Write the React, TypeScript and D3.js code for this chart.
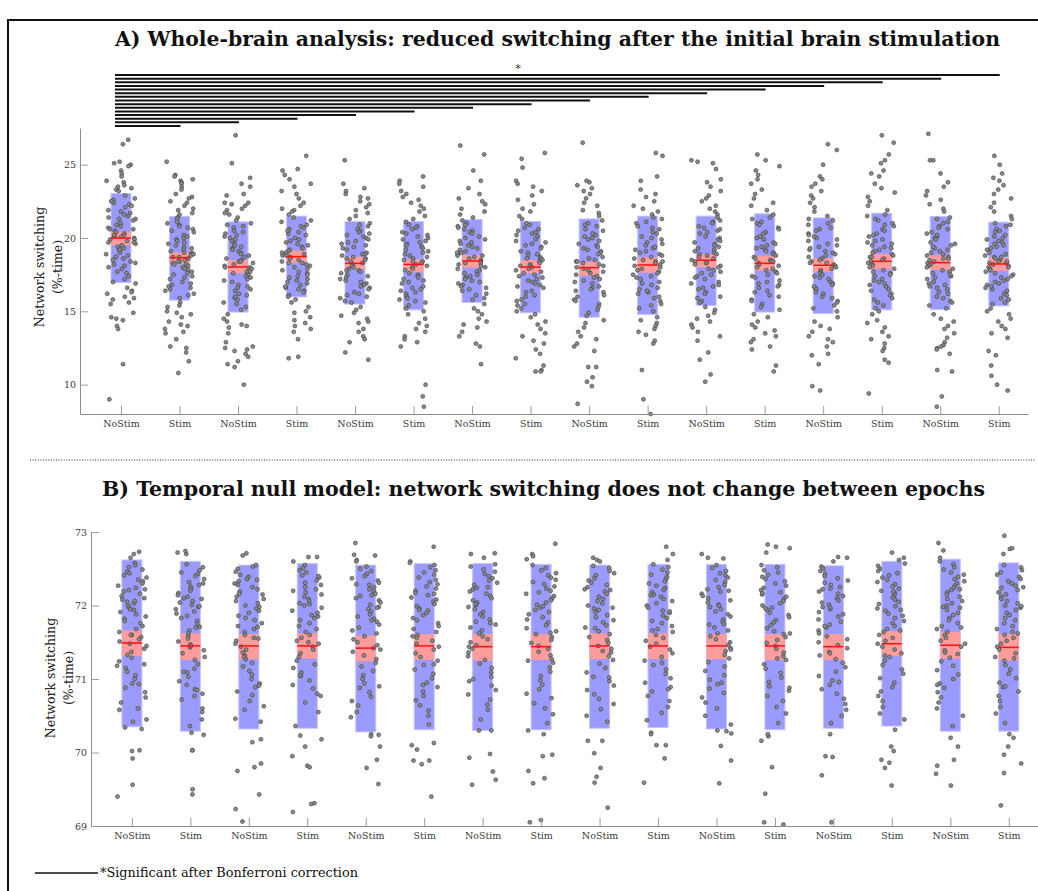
import React, { useEffect, useRef } from 'react';
import * as d3 from 'd3';

// conditions, alternating
const groupLabels = ['NoStim', 'Stim', 'NoStim', 'Stim', 'NoStim', 'Stim', 'NoStim', 'Stim',
  'NoStim', 'Stim', 'NoStim', 'Stim', 'NoStim', 'Stim', 'NoStim', 'Stim'];

// A) whole-brain: mean, SD box and SEM band (network switching, %-time)
const wholeMean = [20.0, 18.66, 18.02, 18.73, 18.27, 18.2, 18.43, 18.02, 17.98, 18.16, 18.48, 18.27, 18.14, 18.41, 18.32, 18.23];
const wholeBoxLow = [16.96, 15.76, 14.95, 15.98, 15.49, 15.1, 15.6, 14.9, 14.6, 14.79, 15.4, 14.95, 14.85, 15.1, 15.12, 15.37];
const wholeBoxHigh = [23.03, 21.47, 21.1, 21.49, 21.12, 21.12, 21.26, 21.12, 21.3, 21.49, 21.49, 21.65, 21.37, 21.69, 21.47, 21.08];
const wholeSemLow = [19.52, 18.2, 17.6, 18.32, 17.87, 17.66, 17.98, 17.6, 17.43, 17.63, 18.0, 17.77, 17.68, 17.88, 17.82, 17.77];
const wholeSemHigh = [20.42, 19.02, 18.5, 19.13, 18.72, 18.55, 18.84, 18.5, 18.38, 18.68, 18.9, 18.79, 18.63, 18.9, 18.82, 18.68];

const wholePoints: number[][] = [
  [26.7, 26.4, 25.2, 25.1, 25.0, 24.9, 24.6, 24.4, 24.2, 23.9, 23.8, 23.6, 23.5, 23.4, 23.3, 23.2, 17.0, 16.9, 16.6, 16.4, 16.3, 16.2, 16.0, 15.9, 15.8, 15.6, 15.5, 14.9, 14.6, 14.5, 14.4, 14.0, 13.8, 11.4, 9.0,
    22.9, 22.7, 22.6, 22.4, 22.3, 22.2, 22.1, 21.9, 21.8, 21.7, 21.5, 21.4, 21.3, 21.3, 21.2, 21.0, 20.9, 20.8, 20.7, 20.6, 20.5, 20.4, 20.3, 20.2, 20.1, 20.1, 20.0, 19.9, 19.9, 19.8, 19.7, 19.6, 19.5, 19.4, 19.3, 19.2, 19.0, 18.9, 18.8, 18.7, 18.5, 18.4, 18.3, 18.2, 18.0, 17.9, 17.7, 17.6, 17.4, 17.2, 21.6, 20.6, 19.2, 18.6, 22.5, 20.2, 19.7, 18.1],
  [25.2, 24.3, 24.2, 24.0, 23.9, 23.8, 23.7, 23.5, 23.3, 23.0, 22.8, 22.7, 22.5, 22.4, 22.2, 22.0, 21.9, 21.7, 21.6, 15.6, 15.4, 15.3, 15.0, 14.9, 14.8, 14.6, 14.3, 14.1, 14.0, 13.8, 13.6, 13.5, 13.1, 12.6, 12.5, 12.2, 11.6, 10.8,
    21.4, 21.3, 21.1, 21.0, 20.9, 20.8, 20.6, 20.5, 20.4, 20.2, 20.1, 20.0, 19.9, 19.8, 19.6, 19.5, 19.4, 19.3, 19.2, 19.1, 19.0, 18.9, 18.8, 18.7, 18.7, 18.6, 18.5, 18.4, 18.3, 18.2, 18.1, 18.0, 17.9, 17.8, 17.7, 17.5, 17.4, 17.3, 17.2, 17.0, 16.9, 16.8, 16.6, 16.5, 16.4, 16.2, 16.1, 15.9, 19.7, 18.9, 18.2, 17.6, 20.7, 16.7, 19.0, 18.4],
  [27.0, 25.1, 24.1, 23.7, 23.5, 23.0, 22.9, 22.4, 22.4, 22.3, 22.2, 22.0, 21.9, 21.7, 21.6, 21.4, 21.2, 14.8, 14.5, 14.3, 14.1, 14.0, 13.9, 13.5, 12.9, 12.6, 12.5, 12.4, 12.3, 12.1, 11.9, 11.6, 11.4, 11.2, 10.0,
    21.0, 20.9, 20.8, 20.7, 20.5, 20.4, 20.3, 20.1, 20.0, 19.9, 19.8, 19.6, 19.5, 19.4, 19.3, 19.1, 19.0, 18.9, 18.8, 18.7, 18.6, 18.5, 18.4, 18.3, 18.2, 18.1, 18.0, 17.9, 17.8, 17.7, 17.6, 17.5, 17.4, 17.2, 17.1, 17.0, 16.8, 16.7, 16.5, 16.4, 16.2, 16.1, 15.9, 15.8, 15.6, 15.5, 15.3, 15.1, 19.2, 18.4, 17.3, 16.6, 20.2, 18.0, 17.7, 16.0],
  [25.6, 24.7, 24.6, 24.3, 24.0, 23.7, 23.5, 23.2, 23.0, 22.7, 22.4, 22.2, 22.0, 21.9, 21.8, 21.6, 15.8, 15.6, 15.3, 15.0, 14.9, 14.6, 14.4, 14.2, 14.0, 13.8, 13.6, 13.1, 11.9, 11.8,
    21.4, 21.2, 21.1, 20.9, 20.8, 20.7, 20.6, 20.4, 20.3, 20.2, 20.0, 19.9, 19.8, 19.7, 19.5, 19.4, 19.3, 19.2, 19.1, 19.0, 18.9, 18.8, 18.7, 18.6, 18.5, 18.4, 18.3, 18.2, 18.1, 18.0, 17.9, 17.8, 17.7, 17.6, 17.4, 17.3, 17.2, 17.0, 16.9, 16.8, 16.6, 16.5, 16.4, 16.3, 16.1, 16.0, 20.5, 19.6, 18.8, 17.5, 19.0, 18.3, 17.1, 16.7],
  [25.3, 23.7, 23.4, 23.2, 23.0, 22.8, 22.7, 22.5, 22.3, 22.1, 21.9, 21.7, 21.5, 21.3, 15.3, 15.1, 14.9, 14.7, 14.5, 14.3, 14.2, 13.8, 13.6, 13.3, 13.1, 12.9, 12.2, 11.7,
    21.0, 20.9, 20.8, 20.6, 20.5, 20.4, 20.2, 20.1, 20.0, 19.9, 19.7, 19.6, 19.5, 19.4, 19.3, 19.2, 19.0, 18.9, 18.8, 18.7, 18.6, 18.5, 18.4, 18.3, 18.2, 18.1, 18.0, 17.9, 17.8, 17.7, 17.6, 17.5, 17.3, 17.2, 17.1, 17.0, 16.9, 16.7, 16.6, 16.5, 16.3, 16.2, 16.0, 15.9, 15.7, 15.6, 19.8, 18.6, 17.4, 16.8, 20.3, 18.9, 17.8, 16.1],
  [24.2, 23.9, 23.7, 23.5, 23.2, 23.0, 22.8, 22.6, 22.4, 22.2, 22.0, 21.8, 21.5, 21.3, 15.0, 14.8, 14.5, 14.2, 14.0, 13.8, 13.6, 13.3, 13.1, 12.9, 12.6, 10.0, 9.2, 8.5,
    21.1, 20.9, 20.8, 20.7, 20.6, 20.4, 20.3, 20.2, 20.0, 19.9, 19.8, 19.6, 19.5, 19.4, 19.2, 19.1, 19.0, 18.9, 18.8, 18.7, 18.6, 18.5, 18.4, 18.3, 18.2, 18.1, 18.0, 17.9, 17.8, 17.6, 17.5, 17.4, 17.3, 17.1, 17.0, 16.9, 16.7, 16.6, 16.5, 16.3, 16.2, 16.0, 15.9, 15.7, 15.6, 15.4, 15.2, 20.1, 19.3, 18.4, 17.2, 16.4, 19.7, 15.8],
  [26.3, 25.7, 24.6, 23.9, 23.4, 23.0, 22.7, 22.5, 22.3, 22.0, 21.8, 21.6, 21.4, 15.5, 15.2, 15.0, 14.8, 14.5, 14.3, 14.1, 13.9, 13.6, 13.3, 12.8, 12.6, 11.4,
    21.2, 21.0, 20.9, 20.8, 20.6, 20.5, 20.4, 20.3, 20.1, 20.0, 19.9, 19.8, 19.7, 19.5, 19.4, 19.3, 19.2, 19.1, 19.0, 18.9, 18.8, 18.7, 18.6, 18.5, 18.4, 18.3, 18.2, 18.1, 18.0, 17.9, 17.8, 17.7, 17.5, 17.4, 17.3, 17.2, 17.0, 16.9, 16.8, 16.6, 16.5, 16.4, 16.2, 16.1, 15.9, 15.8, 19.6, 18.8, 18.3, 17.6, 20.7, 16.7, 19.0, 17.1],
  [25.8, 25.4, 24.8, 23.9, 23.7, 23.5, 23.2, 22.9, 22.6, 22.3, 22.0, 21.8, 21.5, 21.3, 14.8, 14.6, 14.3, 14.1, 13.8, 13.5, 13.3, 13.0, 12.8, 12.4, 12.1, 11.8, 11.3, 11.0, 10.9, 10.9,
    21.0, 20.9, 20.7, 20.6, 20.5, 20.3, 20.2, 20.1, 19.9, 19.8, 19.7, 19.5, 19.4, 19.3, 19.1, 19.0, 18.9, 18.8, 18.7, 18.6, 18.5, 18.4, 18.3, 18.2, 18.1, 18.0, 17.9, 17.8, 17.7, 17.6, 17.5, 17.3, 17.2, 17.1, 17.0, 16.8, 16.7, 16.6, 16.4, 16.3, 16.1, 16.0, 15.8, 15.7, 15.5, 15.4, 15.2, 15.0, 19.6, 18.6, 17.4, 16.9, 20.4, 18.1],
  [26.5, 23.9, 23.8, 23.6, 23.4, 23.2, 23.0, 22.7, 22.4, 22.2, 21.9, 21.7, 21.5, 14.4, 14.2, 13.9, 13.6, 13.3, 13.1, 12.8, 12.6, 12.3, 11.2, 11.2, 10.5, 10.2, 9.9, 8.7,
    21.2, 21.0, 20.9, 20.8, 20.6, 20.5, 20.3, 20.2, 20.1, 19.9, 19.8, 19.6, 19.5, 19.4, 19.2, 19.1, 19.0, 18.9, 18.7, 18.6, 18.5, 18.4, 18.3, 18.2, 18.1, 18.0, 17.9, 17.8, 17.7, 17.6, 17.5, 17.4, 17.2, 17.1, 17.0, 16.9, 16.7, 16.6, 16.4, 16.3, 16.1, 16.0, 15.8, 15.7, 15.5, 15.3, 15.1, 14.9, 14.7, 19.3, 18.4, 17.3, 16.5, 20.0],
  [25.8, 25.6, 24.2, 23.9, 23.3, 23.0, 22.8, 22.5, 22.2, 22.0, 21.8, 21.6, 14.6, 14.4, 14.2, 14.0, 13.8, 13.6, 13.4, 13.0, 12.8, 11.0, 9.0, 8.0,
    21.4, 21.3, 21.1, 21.0, 20.8, 20.7, 20.6, 20.4, 20.3, 20.1, 20.0, 19.9, 19.7, 19.6, 19.5, 19.3, 19.2, 19.1, 19.0, 18.9, 18.8, 18.7, 18.6, 18.5, 18.4, 18.3, 18.2, 18.1, 18.0, 17.9, 17.8, 17.7, 17.6, 17.4, 17.3, 17.2, 17.0, 16.9, 16.8, 16.6, 16.5, 16.3, 16.2, 16.0, 15.9, 15.7, 15.5, 15.4, 15.2, 15.0, 19.4, 18.4, 17.5, 16.4],
  [25.3, 25.2, 25.1, 24.7, 24.0, 23.8, 23.5, 23.2, 22.9, 22.7, 22.5, 22.2, 22.0, 21.8, 21.6, 15.3, 15.1, 14.9, 14.7, 14.5, 14.3, 14.1, 13.9, 13.6, 13.3, 13.0, 12.2, 11.7, 10.7, 10.2,
    21.4, 21.2, 21.1, 21.0, 20.8, 20.7, 20.5, 20.4, 20.3, 20.1, 20.0, 19.9, 19.8, 19.6, 19.5, 19.4, 19.3, 19.2, 19.1, 19.0, 18.9, 18.8, 18.7, 18.6, 18.5, 18.4, 18.3, 18.2, 18.1, 18.0, 17.9, 17.8, 17.7, 17.5, 17.4, 17.3, 17.2, 17.0, 16.9, 16.7, 16.6, 16.5, 16.3, 16.2, 16.0, 15.9, 15.7, 15.6, 19.7, 18.9, 18.3, 17.6, 20.6, 16.8],
  [25.7, 25.3, 24.9, 24.6, 24.3, 24.0, 23.7, 23.3, 23.0, 22.7, 22.4, 22.2, 21.9, 14.8, 14.6, 14.3, 14.1, 13.9, 13.7, 13.5, 13.3, 13.1, 12.9, 12.6, 12.4, 11.3, 10.9,
    21.6, 21.4, 21.3, 21.1, 21.0, 20.9, 20.7, 20.6, 20.4, 20.3, 20.1, 20.0, 19.9, 19.7, 19.6, 19.5, 19.3, 19.2, 19.1, 19.0, 18.9, 18.8, 18.7, 18.6, 18.5, 18.4, 18.3, 18.2, 18.1, 18.0, 17.9, 17.8, 17.7, 17.5, 17.4, 17.3, 17.1, 17.0, 16.8, 16.7, 16.6, 16.4, 16.3, 16.1, 16.0, 15.8, 15.7, 15.5, 15.3, 15.1, 19.4, 18.4, 17.6, 16.9],
  [26.4, 26.0, 25.0, 24.2, 24.0, 23.7, 23.5, 23.2, 22.9, 22.7, 22.4, 22.1, 21.8, 21.5, 14.6, 14.3, 14.0, 13.8, 13.6, 13.3, 13.1, 12.9, 12.6, 12.1, 12.0, 11.4, 9.9, 9.6,
    21.3, 21.2, 21.0, 20.9, 20.7, 20.6, 20.5, 20.3, 20.2, 20.0, 19.9, 19.8, 19.6, 19.5, 19.4, 19.2, 19.1, 19.0, 18.9, 18.8, 18.7, 18.6, 18.5, 18.4, 18.3, 18.2, 18.1, 18.0, 17.9, 17.8, 17.7, 17.6, 17.4, 17.3, 17.2, 17.0, 16.9, 16.8, 16.6, 16.5, 16.3, 16.2, 16.0, 15.9, 15.7, 15.6, 15.4, 15.2, 15.0, 19.3, 18.3, 17.5, 16.7, 20.1],
  [27.0, 26.5, 25.7, 25.3, 25.1, 24.6, 24.4, 24.2, 23.7, 23.4, 23.1, 22.8, 22.5, 22.2, 21.9, 15.0, 14.8, 14.4, 14.2, 13.9, 13.6, 13.3, 13.1, 12.8, 12.5, 12.3, 11.7, 11.5, 9.4,
    21.6, 21.5, 21.3, 21.2, 21.0, 20.9, 20.8, 20.6, 20.5, 20.3, 20.2, 20.1, 19.9, 19.8, 19.7, 19.5, 19.4, 19.3, 19.2, 19.1, 19.0, 18.9, 18.8, 18.7, 18.6, 18.5, 18.4, 18.3, 18.2, 18.1, 18.0, 17.9, 17.8, 17.6, 17.5, 17.4, 17.2, 17.1, 17.0, 16.8, 16.7, 16.5, 16.4, 16.2, 16.1, 15.9, 15.8, 15.6, 15.4, 15.2, 19.6, 18.7, 17.7, 16.9],
  [27.1, 25.3, 25.3, 24.4, 23.8, 23.5, 23.2, 22.9, 22.6, 22.3, 22.0, 21.8, 14.8, 14.5, 14.3, 14.0, 13.8, 13.5, 13.2, 12.9, 12.7, 12.6, 12.5, 12.4, 12.1, 11.0, 10.9, 9.2, 8.5,
    21.4, 21.3, 21.1, 21.0, 20.8, 20.7, 20.6, 20.4, 20.3, 20.1, 20.0, 19.9, 19.7, 19.6, 19.5, 19.3, 19.2, 19.1, 19.0, 18.9, 18.8, 18.7, 18.6, 18.5, 18.4, 18.3, 18.2, 18.1, 18.0, 17.9, 17.8, 17.7, 17.6, 17.4, 17.3, 17.2, 17.0, 16.9, 16.8, 16.6, 16.5, 16.3, 16.2, 16.0, 15.9, 15.7, 15.6, 15.4, 15.2, 19.4, 18.6, 17.5, 16.7, 20.2],
  [25.6, 25.0, 24.4, 24.1, 23.9, 23.6, 23.3, 23.0, 22.7, 22.4, 22.1, 21.8, 21.5, 21.3, 15.2, 15.0, 14.8, 14.5, 14.3, 14.0, 13.8, 13.5, 13.2, 12.3, 12.0, 11.3, 10.6, 10.0, 9.6,
    21.0, 20.9, 20.8, 20.6, 20.5, 20.4, 20.2, 20.1, 20.0, 19.9, 19.7, 19.6, 19.5, 19.4, 19.3, 19.2, 19.0, 18.9, 18.8, 18.7, 18.6, 18.5, 18.4, 18.3, 18.3, 18.2, 18.1, 18.0, 17.9, 17.8, 17.7, 17.6, 17.5, 17.4, 17.2, 17.1, 17.0, 16.9, 16.8, 16.6, 16.5, 16.4, 16.2, 16.1, 15.9, 15.8, 15.6, 15.5, 19.8, 18.7, 18.0, 17.3, 16.7, 18.4],
];

// groups that differ from the first NoStim epoch (Bonferroni)
const sigTargets = [16, 15, 14, 13, 12, 11, 10, 9, 8, 7, 6, 5, 4, 3, 2];

// B) temporal null model
const nullMean = [71.49, 71.45, 71.45, 71.45, 71.42, 71.45, 71.44, 71.44, 71.45, 71.45, 71.45, 71.45, 71.44, 71.48, 71.46, 71.43];
const nullBoxLow = [70.35, 70.29, 70.32, 70.33, 70.28, 70.31, 70.3, 70.31, 70.33, 70.34, 70.32, 70.31, 70.33, 70.36, 70.29, 70.29];
const nullBoxHigh = [72.62, 72.6, 72.55, 72.57, 72.55, 72.57, 72.57, 72.56, 72.55, 72.56, 72.56, 72.56, 72.54, 72.6, 72.63, 72.58];
const nullSemLow = [71.31, 71.26, 71.27, 71.28, 71.24, 71.26, 71.25, 71.26, 71.27, 71.27, 71.27, 71.26, 71.26, 71.31, 71.28, 71.25];
const nullSemHigh = [71.66, 71.62, 71.61, 71.62, 71.59, 71.61, 71.61, 71.61, 71.62, 71.62, 71.61, 71.61, 71.61, 71.65, 71.64, 71.61];

const nullPoints: number[][] = [
  [72.73, 72.70, 72.65, 70.34, 70.32, 70.03, 70.02, 69.92, 69.56, 69.40,
    72.58, 72.55, 72.52, 72.49, 72.46, 72.44, 72.41, 72.38, 72.35, 72.33, 72.30, 72.27, 72.24, 72.22, 72.19, 72.16, 72.13, 72.10, 72.08, 72.05, 72.03, 72.00, 71.97, 71.94, 71.91, 71.88, 71.85, 71.82, 71.79, 71.76, 71.72, 71.68, 71.64, 71.60, 71.57, 71.54, 71.51, 71.48, 71.45, 71.41, 71.37, 71.33, 71.29, 71.24, 71.20, 71.15, 71.10, 71.05, 71.00, 70.94, 70.88, 70.82, 70.75, 70.68, 70.60, 70.58, 70.45, 70.42, 72.21, 72.06, 71.95, 71.60, 71.18, 70.93],
  [72.72, 72.70, 72.74, 70.24, 70.27, 70.03, 70.03, 69.50, 69.43,
    72.56, 72.52, 72.48, 72.45, 72.43, 72.40, 72.36, 72.32, 72.30, 72.26, 72.23, 72.20, 72.17, 72.14, 72.12, 72.09, 72.06, 72.04, 72.01, 71.98, 71.95, 71.92, 71.89, 71.86, 71.83, 71.79, 71.75, 71.71, 71.66, 71.62, 71.58, 71.55, 71.51, 71.47, 71.43, 71.39, 71.35, 71.30, 71.26, 71.20, 71.14, 71.09, 71.03, 70.97, 70.92, 70.86, 70.80, 70.77, 70.72, 70.60, 70.55, 70.45, 70.36, 72.10, 71.99, 71.70, 71.45, 71.10, 70.85, 72.28],
  [72.71, 72.68, 70.18, 70.14, 69.85, 69.80, 69.75, 69.43, 69.23, 69.06,
    72.55, 72.53, 72.50, 72.46, 72.42, 72.39, 72.36, 72.33, 72.30, 72.28, 72.25, 72.22, 72.19, 72.16, 72.12, 72.09, 72.06, 72.03, 72.00, 71.96, 71.93, 71.90, 71.86, 71.83, 71.80, 71.76, 71.72, 71.68, 71.64, 71.60, 71.56, 71.52, 71.48, 71.44, 71.40, 71.36, 71.32, 71.27, 71.22, 71.17, 71.11, 71.06, 71.00, 70.94, 70.89, 70.83, 70.78, 70.70, 70.63, 70.58, 70.46, 70.42, 72.15, 71.98, 71.71, 71.30, 70.91, 72.35, 71.55],
  [72.66, 72.66, 72.60, 70.36, 70.23, 70.18, 70.08, 69.95, 69.82, 69.80, 69.31, 69.30, 69.19,
    72.55, 72.51, 72.48, 72.45, 72.41, 72.38, 72.34, 72.31, 72.28, 72.25, 72.22, 72.18, 72.15, 72.12, 72.09, 72.06, 72.03, 72.00, 71.97, 71.93, 71.90, 71.87, 71.83, 71.80, 71.76, 71.72, 71.68, 71.64, 71.60, 71.56, 71.52, 71.48, 71.44, 71.40, 71.35, 71.30, 71.25, 71.20, 71.15, 71.09, 71.04, 70.98, 70.92, 70.87, 70.80, 70.77, 70.68, 70.55, 72.20, 72.02, 71.85, 71.50, 71.05, 72.40],
  [72.85, 72.69, 72.68, 72.62, 72.60, 70.25, 70.24, 70.22, 70.08, 69.90, 69.79, 69.57,
    72.53, 72.50, 72.47, 72.43, 72.40, 72.37, 72.34, 72.31, 72.28, 72.25, 72.22, 72.19, 72.16, 72.13, 72.10, 72.07, 72.04, 72.01, 71.98, 71.95, 71.92, 71.88, 71.85, 71.82, 71.78, 71.74, 71.70, 71.66, 71.62, 71.58, 71.54, 71.50, 71.46, 71.42, 71.37, 71.32, 71.27, 71.22, 71.17, 71.11, 71.05, 71.00, 70.94, 70.88, 70.82, 70.76, 70.70, 70.64, 70.55, 70.48, 72.29, 72.14, 71.97, 71.80, 71.40, 70.90],
  [72.80, 72.60, 72.58, 70.13, 70.10, 70.04, 69.89, 69.89, 69.84, 69.40,
    72.55, 72.52, 72.48, 72.45, 72.42, 72.38, 72.35, 72.32, 72.29, 72.26, 72.23, 72.20, 72.17, 72.14, 72.11, 72.08, 72.05, 72.02, 71.99, 71.96, 71.93, 71.90, 71.87, 71.83, 71.80, 71.76, 71.72, 71.68, 71.64, 71.60, 71.56, 71.52, 71.48, 71.44, 71.40, 71.35, 71.30, 71.25, 71.19, 71.13, 71.07, 71.01, 70.95, 70.89, 70.83, 70.77, 70.71, 70.64, 70.57, 70.50, 70.38, 72.16, 71.94, 71.58, 71.20, 70.92],
  [72.70, 72.71, 72.65, 70.30, 70.30, 69.98, 69.93, 69.74, 69.63, 69.56,
    72.56, 72.53, 72.49, 72.46, 72.43, 72.40, 72.37, 72.34, 72.31, 72.28, 72.25, 72.22, 72.19, 72.16, 72.13, 72.10, 72.07, 72.04, 72.01, 71.98, 71.95, 71.91, 71.88, 71.85, 71.81, 71.78, 71.74, 71.70, 71.66, 71.62, 71.58, 71.54, 71.50, 71.46, 71.41, 71.36, 71.31, 71.26, 71.21, 71.15, 71.09, 71.03, 70.97, 70.91, 70.85, 70.79, 70.72, 70.65, 70.58, 70.45, 72.24, 72.02, 71.76, 71.44, 71.00],
  [72.84, 72.70, 72.67, 72.63, 70.30, 70.25, 69.97, 69.95, 69.75, 69.65, 69.58, 69.08, 69.05,
    72.55, 72.51, 72.48, 72.44, 72.41, 72.38, 72.35, 72.32, 72.29, 72.26, 72.23, 72.20, 72.16, 72.13, 72.10, 72.07, 72.04, 72.01, 71.97, 71.94, 71.91, 71.88, 71.84, 71.81, 71.77, 71.73, 71.69, 71.65, 71.61, 71.57, 71.53, 71.49, 71.45, 71.41, 71.37, 71.32, 71.27, 71.22, 71.16, 71.10, 71.04, 70.98, 70.92, 70.86, 70.80, 70.74, 70.67, 70.60, 70.52, 70.40, 72.18, 71.99, 71.63, 71.25],
  [72.65, 72.62, 72.60, 70.16, 70.16, 69.99, 69.79, 69.67, 69.59, 69.25,
    72.54, 72.51, 72.47, 72.44, 72.41, 72.37, 72.34, 72.31, 72.28, 72.25, 72.22, 72.19, 72.16, 72.12, 72.09, 72.06, 72.03, 72.00, 71.97, 71.94, 71.91, 71.87, 71.84, 71.80, 71.77, 71.73, 71.69, 71.65, 71.61, 71.57, 71.53, 71.49, 71.45, 71.41, 71.36, 71.31, 71.26, 71.21, 71.15, 71.09, 71.03, 70.97, 70.91, 70.85, 70.79, 70.73, 70.66, 70.59, 70.50, 70.42, 72.21, 71.96, 71.70, 71.38, 71.02],
  [72.80, 72.70, 72.62, 70.27, 70.25, 70.10, 70.10, 69.92, 69.59,
    72.56, 72.52, 72.49, 72.45, 72.42, 72.39, 72.36, 72.33, 72.30, 72.27, 72.24, 72.21, 72.18, 72.15, 72.12, 72.09, 72.06, 72.03, 72.00, 71.97, 71.93, 71.90, 71.86, 71.83, 71.79, 71.76, 71.72, 71.68, 71.64, 71.60, 71.56, 71.52, 71.48, 71.44, 71.40, 71.35, 71.30, 71.25, 71.19, 71.13, 71.07, 71.01, 70.95, 70.89, 70.83, 70.77, 70.70, 70.62, 70.54, 70.44, 72.14, 71.92, 71.66, 71.22, 70.86],
  [72.70, 72.65, 72.64, 70.29, 70.26, 70.30, 70.09, 69.89, 69.58,
    72.55, 72.51, 72.47, 72.44, 72.41, 72.38, 72.35, 72.32, 72.28, 72.25, 72.22, 72.19, 72.16, 72.13, 72.10, 72.07, 72.04, 72.01, 71.98, 71.95, 71.92, 71.88, 71.85, 71.81, 71.78, 71.74, 71.70, 71.66, 71.62, 71.58, 71.54, 71.50, 71.46, 71.42, 71.38, 71.33, 71.28, 71.23, 71.17, 71.11, 71.05, 70.99, 70.93, 70.87, 70.81, 70.75, 70.68, 70.60, 70.50, 70.38, 72.20, 72.00, 71.75, 71.40, 70.95],
  [72.83, 72.80, 72.78, 72.72, 70.22, 70.25, 70.16, 69.80, 69.44, 69.05, 69.02,
    72.55, 72.52, 72.48, 72.45, 72.42, 72.39, 72.36, 72.33, 72.30, 72.27, 72.24, 72.21, 72.18, 72.15, 72.12, 72.09, 72.06, 72.03, 72.00, 71.97, 71.94, 71.90, 71.87, 71.84, 71.80, 71.77, 71.73, 71.69, 71.65, 71.61, 71.57, 71.53, 71.49, 71.45, 71.41, 71.36, 71.31, 71.26, 71.20, 71.14, 71.08, 71.02, 70.96, 70.90, 70.84, 70.77, 70.70, 70.62, 70.53, 70.40, 72.17, 71.96, 71.62, 71.28, 70.88],
  [72.66, 72.65, 72.60, 70.25, 69.94, 69.95, 69.69, 69.05,
    72.53, 72.50, 72.47, 72.43, 72.40, 72.37, 72.34, 72.31, 72.28, 72.25, 72.22, 72.19, 72.16, 72.13, 72.10, 72.07, 72.04, 72.01, 71.98, 71.95, 71.91, 71.88, 71.85, 71.81, 71.78, 71.74, 71.70, 71.66, 71.62, 71.58, 71.54, 71.50, 71.46, 71.42, 71.37, 71.32, 71.27, 71.22, 71.16, 71.10, 71.04, 70.98, 70.92, 70.86, 70.80, 70.73, 70.66, 70.58, 70.50, 70.40, 72.23, 71.97, 71.72, 71.35, 70.96],
  [72.72, 72.65, 72.62, 70.31, 70.08, 70.02, 69.90, 69.86, 69.79, 69.55,
    72.57, 72.54, 72.50, 72.47, 72.44, 72.41, 72.38, 72.35, 72.32, 72.29, 72.26, 72.23, 72.20, 72.17, 72.14, 72.11, 72.08, 72.05, 72.02, 71.99, 71.96, 71.93, 71.89, 71.86, 71.83, 71.79, 71.76, 71.72, 71.68, 71.64, 71.60, 71.56, 71.52, 71.48, 71.44, 71.40, 71.35, 71.30, 71.25, 71.19, 71.13, 71.07, 71.01, 70.95, 70.89, 70.83, 70.77, 70.70, 70.62, 70.53, 70.45, 72.19, 71.94, 71.66, 71.32],
  [72.85, 72.75, 72.65, 70.20, 70.08, 69.90, 69.82, 69.71, 69.55,
    72.60, 72.56, 72.52, 72.49, 72.45, 72.42, 72.39, 72.36, 72.33, 72.30, 72.27, 72.24, 72.21, 72.18, 72.15, 72.12, 72.09, 72.06, 72.03, 72.00, 71.97, 71.94, 71.90, 71.87, 71.83, 71.80, 71.76, 71.72, 71.68, 71.64, 71.60, 71.56, 71.52, 71.48, 71.44, 71.39, 71.34, 71.29, 71.24, 71.18, 71.12, 71.06, 71.00, 70.94, 70.88, 70.82, 70.75, 70.68, 70.60, 70.50, 70.36, 72.22, 71.98, 71.70, 71.36, 70.92],
  [72.95, 72.77, 72.78, 72.70, 70.25, 70.20, 70.08, 69.97, 69.85, 69.72, 69.28,
    72.55, 72.52, 72.48, 72.45, 72.42, 72.39, 72.36, 72.33, 72.30, 72.27, 72.24, 72.21, 72.18, 72.15, 72.12, 72.09, 72.06, 72.03, 72.00, 71.97, 71.94, 71.90, 71.87, 71.83, 71.80, 71.76, 71.72, 71.68, 71.64, 71.60, 71.56, 71.52, 71.48, 71.44, 71.40, 71.35, 71.30, 71.25, 71.19, 71.13, 71.07, 71.01, 70.95, 70.89, 70.83, 70.77, 70.70, 70.62, 70.53, 70.40, 72.25, 71.99, 71.62, 71.28, 70.90],
];

const wholeTicks = [10, 15, 20, 25];
const nullTicks = [69, 70, 71, 72, 73];

const SERIF = '"DejaVu Serif", serif';

// deterministic horizontal spread for the dots (layout only)
const spread = (g: number, i: number) => {
  const s = Math.sin((i + 1) * 12.9898 + (g + 1) * 78.233) * 43758.5453;
  return (s - Math.floor(s)) * 2 - 1;
};

type Panel = {
  left: number; right: number; top: number; bottom: number;
  yDomain: [number, number]; ticks: number[];
  mean: number[]; boxLow: number[]; boxHigh: number[]; semLow: number[]; semHigh: number[];
  points: number[][]; labelX: number; labelY: number;
};

const App = () => {
  const svgRef = useRef<SVGSVGElement>(null);

  useEffect(() => {
    const svg = d3.select(svgRef.current);
    svg.selectAll('*').remove();

    // frame
    svg.append('path').attr('d', 'M8,891 L8,20 L1038,20').attr('fill', 'none')
      .attr('stroke', '#111').attr('stroke-width', 2);

    const drawPanel = (p: Panel) => {
      const x = d3.scaleLinear().domain([0.3, 16.5]).range([p.left, p.right]);
      const y = d3.scaleLinear().domain(p.yDomain).range([p.bottom, p.top]);
      const g = svg.append('g');
      const boxW = 20;

      const groups = d3.range(16);
      g.selectAll('rect.sd').data(groups).enter().append('rect')
        .attr('x', (i) => x(i + 1) - boxW / 2).attr('width', boxW)
        .attr('y', (i) => y(p.boxHigh[i])).attr('height', (i) => y(p.boxLow[i]) - y(p.boxHigh[i]))
        .attr('fill', '#9a9aff').attr('stroke', '#c4c4ff').attr('stroke-width', 1);
      g.selectAll('rect.sem').data(groups).enter().append('rect')
        .attr('x', (i) => x(i + 1) - boxW / 2).attr('width', boxW)
        .attr('y', (i) => y(p.semHigh[i])).attr('height', (i) => y(p.semLow[i]) - y(p.semHigh[i]))
        .attr('fill', '#ff9c9c');

      const dots = p.points.flatMap((vals, gi) => vals.map((v, i) => ({ gi, v, dx: spread(gi, i) * 15 })));
      g.selectAll('circle').data(dots).enter().append('circle')
        .attr('cx', (d) => x(d.gi + 1) + d.dx).attr('cy', (d) => y(d.v)).attr('r', 2)
        .attr('fill', '#8a8a8a').attr('stroke', '#333').attr('stroke-width', 0.55);

      g.selectAll('line.mean').data(groups).enter().append('line')
        .attr('x1', (i) => x(i + 1) - boxW / 2).attr('x2', (i) => x(i + 1) + boxW / 2)
        .attr('y1', (i) => y(p.mean[i])).attr('y2', (i) => y(p.mean[i]))
        .attr('stroke', '#ff1010').attr('stroke-width', 1.5);

      const xAxis = d3.axisBottom(x).tickValues(d3.range(1, 17))
        .tickFormat((d) => groupLabels[(d as number) - 1])
        .tickSize(-8).tickSizeOuter(0).tickPadding(6);
      const yAxis = d3.axisLeft(y).tickValues(p.ticks).tickFormat(d3.format('d'))
        .tickSize(-8).tickSizeOuter(0).tickPadding(4);

      const ax = g.append('g').attr('transform', `translate(0,${p.bottom})`).call(xAxis);
      const ay = g.append('g').attr('transform', `translate(${p.left},0)`).call(yAxis);
      [ax, ay].forEach((a) => {
        a.select('.domain').attr('stroke', '#8c8c8c');
        a.selectAll('.tick line').attr('stroke', '#9a9a9a');
        a.selectAll('.tick text').attr('fill', '#3a3a3a').style('font-family', SERIF).style('font-size', '9.5px');
      });

      const lab = g.append('text').attr('transform', `translate(${p.labelX},${p.labelY}) rotate(-90)`)
        .attr('text-anchor', 'middle').style('font-family', SERIF).style('font-size', '12.5px').attr('fill', '#222');
      lab.append('tspan').attr('x', 0).attr('dy', 0).text('Network switching');
      lab.append('tspan').attr('x', 0).attr('dy', 18).text('(%-time)');
    };

    drawPanel({
      left: 80, right: 1028, top: 128, bottom: 414, yDomain: [8, 27.5], ticks: wholeTicks,
      mean: wholeMean, boxLow: wholeBoxLow, boxHigh: wholeBoxHigh, semLow: wholeSemLow, semHigh: wholeSemHigh,
      points: wholePoints, labelX: 44, labelY: 267,
    });
    drawPanel({
      left: 91, right: 1038, top: 532, bottom: 826, yDomain: [69, 73], ticks: nullTicks,
      mean: nullMean, boxLow: nullBoxLow, boxHigh: nullBoxHigh, semLow: nullSemLow, semHigh: nullSemHigh,
      points: nullPoints, labelX: 55, labelY: 678,
    });

    // significance bars: each from the first epoch to a later one
    const xa = d3.scaleLinear().domain([0.3, 16.5]).range([80, 1028]);
    const barY = d3.scalePoint<number>().domain(sigTargets).range([75, 126]);
    svg.append('g').selectAll('line').data(sigTargets).enter().append('line')
      .attr('x1', xa(1) - 6).attr('x2', (t) => xa(t) + 1)
      .attr('y1', (t) => barY(t)!).attr('y2', (t) => barY(t)!)
      .attr('stroke', '#111').attr('stroke-width', 2);
    svg.append('text').attr('x', 518).attr('y', 72).attr('text-anchor', 'middle')
      .style('font-family', SERIF).style('font-size', '11px').attr('fill', '#333').text('*');

    // titles
    svg.append('text').attr('x', 115).attr('y', 46).attr('textLength', 885).attr('lengthAdjust', 'spacingAndGlyphs')
      .style('font-family', SERIF).style('font-weight', 'bold').style('font-size', '21px').attr('fill', '#111')
      .text('A) Whole-brain analysis: reduced switching after the initial brain stimulation');
    svg.append('text').attr('x', 102).attr('y', 496).attr('textLength', 883).attr('lengthAdjust', 'spacingAndGlyphs')
      .style('font-family', SERIF).style('font-weight', 'bold').style('font-size', '21px').attr('fill', '#111')
      .text('B) Temporal null model: network switching does not change between epochs');

    // separator
    svg.append('line').attr('x1', 30).attr('x2', 1036).attr('y1', 460).attr('y2', 460)
      .attr('stroke', '#222').attr('stroke-width', 1).attr('stroke-dasharray', '1,1.6');

    // footnote
    svg.append('line').attr('x1', 35).attr('x2', 98).attr('y1', 873).attr('y2', 873)
      .attr('stroke', '#111').attr('stroke-width', 1.5);
    svg.append('text').attr('x', 100).attr('y', 877).style('font-family', SERIF).style('font-size', '12px')
      .attr('fill', '#111').attr('textLength', 258).attr('lengthAdjust', 'spacingAndGlyphs')
      .text('*Significant after Bonferroni correction');
  }, []);

  return (
    <svg ref={svgRef} width={1038} height={891}
      style={{ position: 'absolute', left: 0, top: 0, background: '#fff' }} />
  );
};

export default App;
